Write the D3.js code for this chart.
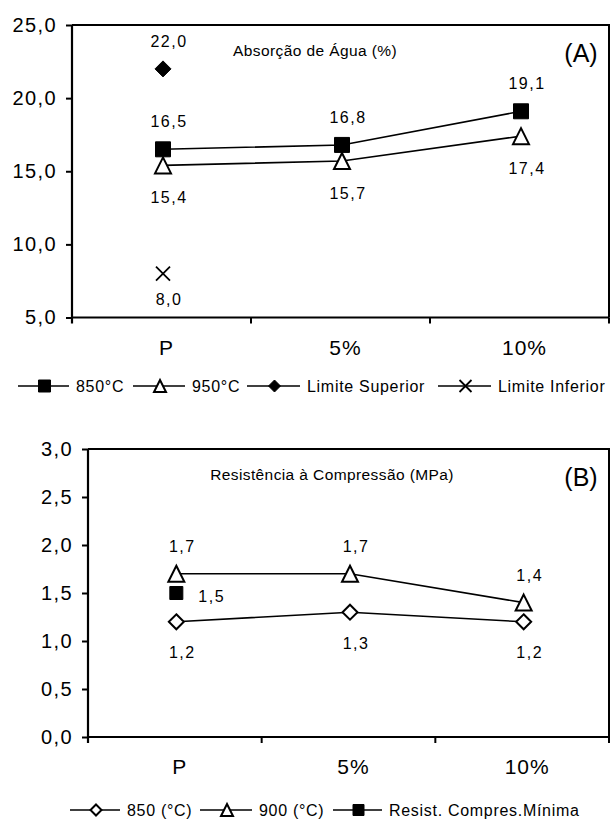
<!DOCTYPE html>
<html>
<head>
<meta charset="utf-8">
<script src="https://cdn.jsdelivr.net/npm/d3@7"></script>
<style>
  html, body { margin: 0; padding: 0; background: #fff; }
  svg { display: block; font-family: "Liberation Sans", Arial, sans-serif; }
</style>
</head>
<body>
<svg id="chart" width="611" height="819"></svg>
<script>
// ---------- DATA ----------
const categories = ["P", "5%", "10%"];

// Panel A – Absorção de Água (%)
const yTicksA = [5, 10, 15, 20, 25];
const absorcao850 = [16.5, 16.8, 19.1];
const absorcao950 = [15.4, 15.7, 17.4];
const limiteSuperior = [22.0];   // only at "P"
const limiteInferior = [8.0];    // only at "P"

// Panel B – Resistência à Compressão (MPa)
const yTicksB = [0, 0.5, 1, 1.5, 2, 2.5, 3];
const resist850 = [1.2, 1.3, 1.2];
const resist900 = [1.7, 1.7, 1.4];
const resistMinima = [1.5];      // only at "P"

// ---------- HELPERS ----------
const svg = d3.select("#chart");
const fmt = v => d3.format(".1f")(v).replace(".", ",");

function markerPath(type, s) {
  const h = s / 2;
  switch (type) {
    case "square": return `M${-h},${-h}H${h}V${h}H${-h}Z`;
    case "triangle": return `M0,${-h}L${h},${h}L${-h},${h}Z`;
    case "diamond": return `M0,${-h}L${h},0L0,${h}L${-h},0Z`;
    case "x": return `M${-h},${-h}L${h},${h}M${h},${-h}L${-h},${h}`;
  }
}
function drawMarker(g, type, cx, cy, s, filled) {
  g.append("path")
    .attr("d", markerPath(type, s))
    .attr("transform", `translate(${cx},${cy})`)
    .attr("fill", type === "x" ? "none" : (filled ? "#000" : "#fff"))
    .attr("stroke", "#000")
    .attr("stroke-width", type === "x" ? 1.8 : (filled ? 1 : 2));
}

function panel(cfg) {
  const g = svg.append("g");
  const x = d3.scaleBand().domain(categories).range([cfg.left, cfg.right]);
  const y = d3.scaleLinear().domain(cfg.yDomain).range([cfg.bottom, cfg.top]);
  const cx = c => x(c) + x.bandwidth() / 2 + 1.5;

  // frame (top + right)
  g.append("path")
    .attr("d", `M${cfg.left},${cfg.top}H${cfg.right}V${cfg.bottom}`)
    .attr("fill", "none").attr("stroke", "#000").attr("stroke-width", 2);

  // y axis
  const ya = g.append("g").attr("transform", `translate(${cfg.left},0)`)
    .call(d3.axisLeft(y).tickValues(cfg.yTicks).tickSize(6).tickPadding(9).tickFormat(fmt));
  ya.select(".domain").attr("stroke-width", 2.2).attr("d", `M0,${cfg.top}V${cfg.bottom + 6}`);
  ya.selectAll(".tick line").attr("stroke-width", 2);
  ya.selectAll(".tick text")
    .style("font-size", "20px").style("letter-spacing", "1.4px")
    .attr("fill", "#000").attr("font-family", null);

  // x axis line & boundary ticks
  g.append("line").attr("x1", cfg.left).attr("x2", cfg.right)
    .attr("y1", cfg.bottom).attr("y2", cfg.bottom)
    .attr("stroke", "#000").attr("stroke-width", 2.2);
  d3.range(1, categories.length + 1).forEach(i => {
    const bx = cfg.left + i * x.step();
    g.append("line").attr("x1", bx).attr("x2", bx)
      .attr("y1", cfg.bottom).attr("y2", cfg.bottom + 6)
      .attr("stroke", "#000").attr("stroke-width", 2);
  });
  // x labels
  g.selectAll(".xl").data(categories).enter().append("text")
    .attr("x", c => x(c) + x.bandwidth() / 2 + 5)
    .attr("y", cfg.bottom + 30).attr("dy", "0.35em")
    .attr("text-anchor", "middle")
    .style("font-size", "21px").style("letter-spacing", "1px")
    .text(c => c);

  // title and panel tag
  g.append("text").attr("x", cfg.titleX).attr("y", cfg.top + 26).attr("dy", "0.35em")
    .attr("text-anchor", "middle").style("font-size", "15.5px").style("letter-spacing", "0.4px")
    .text(cfg.title);
  g.append("text").attr("x", 581).attr("y", cfg.top + 28).attr("dy", "0.35em")
    .attr("text-anchor", "middle").style("font-size", "25px")
    .text(cfg.tag);

  // series
  const line = d3.line().x((d, i) => cx(categories[i])).y(d => y(d));
  cfg.series.forEach(s => {
    if (s.values.length > 1) {
      g.append("path").datum(s.values).attr("d", line)
        .attr("fill", "none").attr("stroke", "#000").attr("stroke-width", 1.6);
    }
  });
  cfg.series.forEach(s => {
    s.values.forEach((v, i) => {
      const px = cx(categories[i]), py = y(v);
      drawMarker(g, s.marker, px, py, s.size, s.filled);
      const lab = g.append("text")
        .style("font-size", "16px").style("letter-spacing", "1.5px")
        .attr("dy", "0.35em").text(fmt(v));
      if (s.label === "right") {
        lab.attr("x", px + 22).attr("y", py + 3).attr("text-anchor", "start");
      } else {
        lab.attr("x", px + 6).attr("text-anchor", "middle")
          .attr("y", s.label === "above" ? py - s.offAbove : py + s.offBelow);
      }
    });
  });

  // legend
  cfg.legend.forEach(l => {
    g.append("line").attr("x1", l.x1).attr("x2", l.x2)
      .attr("y1", cfg.legendY).attr("y2", cfg.legendY)
      .attr("stroke", "#000").attr("stroke-width", 1.6);
    drawMarker(g, l.marker, (l.x1 + l.x2) / 2 + 1, cfg.legendY, l.size, l.filled);
    g.append("text").attr("x", l.x2 + 7).attr("y", cfg.legendY).attr("dy", "0.35em")
      .style("font-size", "16px").style("letter-spacing", "0.7px")
      .text(l.name);
  });
}

// ---------- PANEL A ----------
panel({
  left: 72, right: 609, top: 25, bottom: 317.5,
  yDomain: [5, 25], yTicks: yTicksA,
  title: "Absorção de Água (%)", titleX: 315, tag: "(A)",
  series: [
    { values: absorcao850, marker: "square", size: 15, filled: true, label: "above", offAbove: 28 },
    { values: absorcao950, marker: "triangle", size: 16, filled: false, label: "below", offBelow: 32 },
    { values: limiteSuperior, marker: "diamond", size: 16, filled: true, label: "above", offAbove: 27 },
    { values: limiteInferior, marker: "x", size: 14, filled: false, label: "below", offBelow: 26 }
  ],
  legendY: 386,
  legend: [
    { name: "850°C", x1: 18, x2: 69, marker: "square", size: 12, filled: true },
    { name: "950°C", x1: 133, x2: 185, marker: "triangle", size: 12, filled: false },
    { name: "Limite Superior", x1: 247, x2: 300, marker: "diamond", size: 12, filled: true },
    { name: "Limite Inferior", x1: 438, x2: 491, marker: "x", size: 12, filled: false }
  ]
});

// ---------- PANEL B ----------
panel({
  left: 88, right: 609, top: 449, bottom: 737,
  yDomain: [0, 3], yTicks: yTicksB,
  title: "Resistência à Compressão (MPa)", titleX: 332, tag: "(B)",
  series: [
    { values: resist850, marker: "diamond", size: 15, filled: false, label: "below", offBelow: 31 },
    { values: resist900, marker: "triangle", size: 16, filled: false, label: "above", offAbove: 27 },
    { values: resistMinima, marker: "square", size: 13, filled: true, label: "right" }
  ],
  legendY: 810,
  legend: [
    { name: "850 (°C)", x1: 70, x2: 120, marker: "diamond", size: 11, filled: false },
    { name: "900 (°C)", x1: 200, x2: 252, marker: "triangle", size: 12, filled: false },
    { name: "Resist. Compres.Mínima", x1: 333, x2: 382, marker: "square", size: 11, filled: true }
  ]
});
</script>
</body>
</html>
